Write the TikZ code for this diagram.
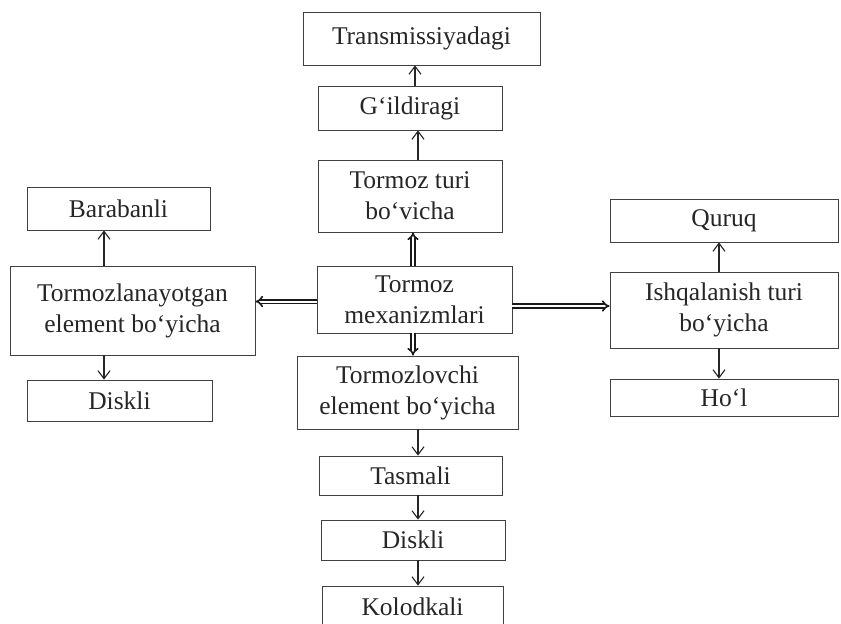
\documentclass[tikz,border=0pt]{standalone}
\usepackage{fontspec}
\setmainfont{Liberation Serif}
\usetikzlibrary{arrows.meta,calc}
\begin{document}
\begin{tikzpicture}[x=1pt,y=1pt,
  box/.style={draw=black!75, line width=0.8pt, align=center, inner sep=0pt,
    font=\fontsize{25.5}{31}\selectfont, text=black!85},
  arr/.style={draw=black!85, line width=1.1pt, -{Straight Barb[length=8pt,width=12pt,line width=1.1pt]}},
  dbl/.style={draw=black!90, double=white, double distance=2pt, line width=1.6pt, -{Implies}}]
\clip (0,0) rectangle (841,-624);
\fill[white] (0,0) rectangle (841,-624);
% boxes
\node[box, minimum width=237pt, minimum height=53pt] (trans) at (421.5,-38.5) {Transmissiyadagi};
\node[box, minimum width=184pt, minimum height=44pt] (gild) at (410,-108) {G‘ildiragi};
\node[box, minimum width=184pt, minimum height=72pt] (turi) at (410,-196) {Tormoz turi\\bo‘vicha};
\node[box, minimum width=195pt, minimum height=67pt] (mex) at (414.5,-299.5) {Tormoz\\mexanizmlari};
\node[box, minimum width=183pt, minimum height=43pt] (barab) at (118.5,-208.5) {Barabanli};
\node[box, minimum width=245pt, minimum height=89pt] (tormozl) at (132.5,-310.5) {Tormozlanayotgan\\element bo‘yicha};
\node[box, minimum width=185pt, minimum height=41pt] (diskL) at (119.5,-400.5) {Diskli};
\node[box, minimum width=228pt, minimum height=43pt] (quruq) at (724,-220.5) {Quruq};
\node[box, minimum width=228pt, minimum height=76pt] (ishq) at (724,-310) {Ishqalanish turi\\bo‘yicha};
\node[box, minimum width=228pt, minimum height=37pt] (hol) at (724,-397.5) {Ho‘l};
\node[box, minimum width=221pt, minimum height=73pt] (tormozlov) at (407.5,-392.5) {Tormozlovchi\\element bo‘yicha};
\node[box, minimum width=183pt, minimum height=39pt] (tasmali) at (410.5,-475.5) {Tasmali};
\node[box, minimum width=184pt, minimum height=40pt] (diskC) at (413,-540) {Diskli};
\node[box, minimum width=181pt, minimum height=42pt] (kolod) at (412.5,-607) {Kolodkali};
% reference coordinates
\coordinate (xT) at (415,0);
\coordinate (xG) at (418,0);
\coordinate (xM) at (413,0);
\coordinate (xL) at (104,0);
\coordinate (xR) at (719,0);
\coordinate (xC) at (418,0);
\coordinate (yLd) at (0,-301.5);
\coordinate (yRd) at (0,-306);
% single arrows
\draw[arr] (gild.north -| xT) -- (trans.south -| xT);
\draw[arr] (turi.north -| xG) -- (gild.south -| xG);
\draw[arr] (tormozl.north -| xL) -- (barab.south -| xL);
\draw[arr] (tormozl.south -| xL) -- (diskL.north -| xL);
\draw[arr] (ishq.north -| xR) -- (quruq.south -| xR);
\draw[arr] (ishq.south -| xR) -- (hol.north -| xR);
\draw[arr] (tormozlov.south -| xC) -- (tasmali.north -| xC);
\draw[arr] (tasmali.south -| xC) -- (diskC.north -| xC);
\draw[arr] (diskC.south -| xC) -- (kolod.north -| xC);
% double arrows
\draw[dbl] (mex.north -| xM) -- (turi.south -| xM);
\draw[dbl] (mex.south -| xM) -- (tormozlov.north -| xM);
\draw[dbl] (mex.west |- yLd) -- (tormozl.east |- yLd);
\draw[dbl] (mex.east |- yRd) -- (ishq.west |- yRd);
\end{tikzpicture}
\end{document}
